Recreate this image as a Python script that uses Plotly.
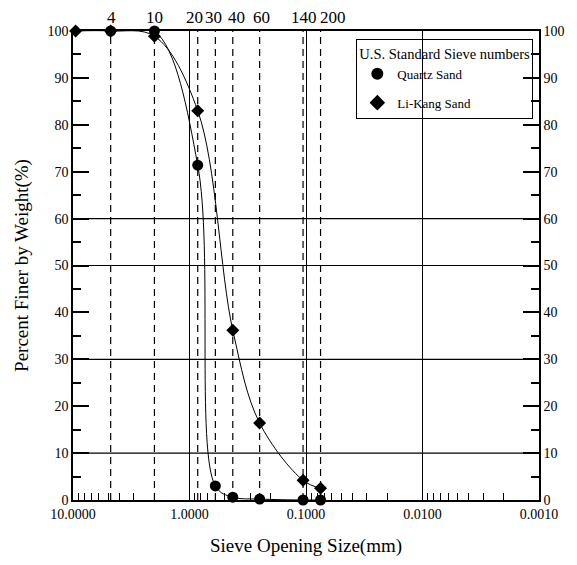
import plotly.graph_objects as go
import numpy as np

# ---- data ----
sieve_numbers = ["4", "10", "20", "30", "40", "60", "140", "200"]
sieve_sizes = [4.75, 2.0, 0.85, 0.6, 0.425, 0.25, 0.106, 0.075]

quartz_size = [4.75, 2.0, 0.85, 0.6, 0.425, 0.25, 0.106, 0.075]
quartz_pct = [100, 100, 71.4, 3.0, 0.6, 0.2, 0.0, 0.0]

likang_size = [9.5, 4.75, 2.0, 0.85, 0.425, 0.25, 0.106, 0.075]
likang_pct = [100, 100, 98.9, 83.0, 36.2, 16.4, 4.2, 2.5]

grid_y = [10, 30, 50, 60]
x_tickvals = [10, 1, 0.1, 0.01, 0.001]
x_ticktext = ["10.0000", "1.0000", "0.1000", "0.0100", "0.0010"]

FONT = "Liberation Serif"
label_shift = {"4": 1, "10": 0, "20": -3, "30": -2, "40": 4, "60": 2, "140": 1, "200": 12}

fig = go.Figure()

# dashed sieve lines
for s in sieve_sizes:
    fig.add_trace(go.Scatter(x=[s, s], y=[0, 100], mode="lines",
                             line=dict(color="black", width=1.2, dash="7px,5px"),
                             showlegend=False, hoverinfo="skip"))

series = [
    ("Quartz Sand", quartz_size, quartz_pct, "circle", 11),
    ("Li-Kang Sand", likang_size, likang_pct, "diamond", 10),
]
for name, xs, ys, sym, sz in series:
    fig.add_trace(go.Scatter(x=xs, y=ys, mode="lines", showlegend=False, hoverinfo="skip",
                             line=dict(color="black", width=1, shape="spline", smoothing=1.0)))
    fig.add_trace(go.Scatter(x=xs, y=ys, mode="markers", name=name, legendgroup=name,
                             marker=dict(symbol=sym, size=sz, color="black"), cliponaxis=False))

fig.add_trace(go.Scatter(x=[None], y=[None], yaxis="y2", showlegend=False))

for gy in grid_y:
    fig.add_shape(type="line", xref="x domain", x0=0, x1=1, yref="y", y0=gy, y1=gy,
                  line=dict(color="black", width=1.2))

for n, s in zip(sieve_numbers, sieve_sizes):
    fig.add_annotation(x=np.log10(s), y=1, xref="x", yref="paper", text=n, showarrow=False,
                       yanchor="bottom", yshift=2, xshift=label_shift[n],
                       font=dict(family=FONT, size=17, color="black"))

fig.update_layout(
    width=577, height=565,
    margin=dict(l=73, r=36, t=31, b=64),
    plot_bgcolor="white", paper_bgcolor="white",
    font=dict(family=FONT, color="black", size=14),
    xaxis=dict(type="log", range=[1, -3], tickvals=x_tickvals, ticktext=x_ticktext,
               ticks="inside", ticklen=12, tickcolor="black", showline=True, linecolor="black",
               linewidth=1.5, mirror=True, showgrid=True, gridcolor="black", gridwidth=1,
               zeroline=False, tickfont=dict(size=14),
               minor=dict(dtick="D1", ticks="inside", ticklen=7, tickcolor="black", showgrid=False),
               title=dict(text="Sieve Opening Size(mm)", font=dict(size=19), standoff=18)),
    yaxis=dict(range=[0, 100], dtick=10, ticks="inside", ticklen=16, tickcolor="black", tickwidth=1.5,
               showline=True, linecolor="black", linewidth=1.5, showgrid=False, zeroline=False,
               minor=dict(dtick=5, ticks="inside", ticklen=8, tickcolor="black"),
               tickfont=dict(size=14),
               title=dict(text="Percent Finer by Weight(%)", font=dict(size=19), standoff=14)),
    yaxis2=dict(range=[0, 100], dtick=10, overlaying="y", side="right", ticks="inside", ticklen=16,
                tickcolor="black", tickwidth=1.5, showline=True, linecolor="black", linewidth=1.5,
                showgrid=False, zeroline=False, tickfont=dict(size=14),
                minor=dict(dtick=5, ticks="inside", ticklen=8, tickcolor="black")),
    legend=dict(x=0.608, y=0.983, xanchor="left", yanchor="top", bgcolor="rgba(0,0,0,0)",
                bordercolor="black", borderwidth=1, traceorder="grouped", tracegroupgap=9,
                title=dict(text="U.S. Standard Sieve numbers", font=dict(size=14.5)),
                font=dict(size=13), itemsizing="constant"),
)

fig.write_html("out.html")
